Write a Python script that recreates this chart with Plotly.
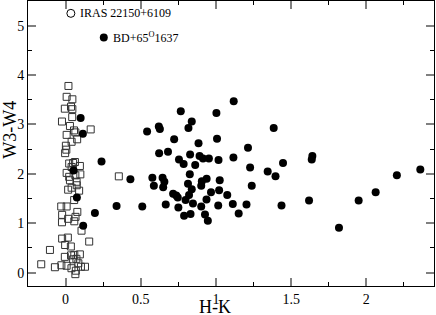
import plotly.graph_objects as go

# BD+65 1637 field stars (filled circles)
bd_hk = [0.100, 0.115, 0.239, 0.053, 0.075, 0.195, 0.117, 0.339, 0.431, 0.510,
         0.542, 0.620, 0.627, 0.766, 1.003, 0.839, 0.817, 0.722, 1.007, 0.884,
         0.622, 0.681, 0.828, 0.754, 0.785, 0.862, 0.891, 0.914, 0.953, 1.017,
         0.826, 0.577, 0.587, 0.645, 0.657, 0.649, 0.814, 0.906, 0.938, 0.902,
         1.025, 0.839, 1.021, 0.967, 0.715, 0.736, 0.746, 0.821, 0.798, 1.075,
         0.666, 0.750, 0.847, 0.937, 0.902, 1.015, 0.788, 0.831, 0.927, 0.946,
         1.118, 1.384, 1.213, 1.116, 1.227, 1.344, 1.396, 1.446, 1.641, 1.637,
         1.238, 1.112, 1.151, 1.203, 1.436, 1.619, 1.818, 1.949, 2.062, 2.203,
         2.359]
bd_w34 = [3.13, 2.81, 2.25, 2.07, 1.52, 1.21, 0.95, 1.35, 1.89, 1.34,
          2.86, 2.96, 2.91, 3.27, 3.23, 3.06, 2.93, 2.70, 2.71, 2.62,
          2.42, 2.45, 2.39, 2.29, 2.20, 2.18, 2.36, 2.31, 2.31, 2.28,
          1.99, 1.92, 1.76, 1.92, 1.84, 1.73, 1.80, 1.85, 1.90, 1.76,
          1.87, 1.69, 1.67, 1.63, 1.60, 1.56, 1.52, 1.57, 1.47, 1.57,
          1.38, 1.32, 1.40, 1.48, 1.34, 1.36, 1.15, 1.19, 1.18, 1.05,
          3.47, 2.93, 2.53, 2.33, 2.13, 2.05, 1.95, 2.22, 2.36, 2.29,
          1.76, 1.39, 1.20, 1.38, 1.36, 1.46, 0.91, 1.46, 1.63, 1.97,
          2.09]

# IRAS 22150+6109 field stars (open squares)
iras_hk = [0.019, 0.007, 0.045, -0.005, 0.036, 0.045, 0.044, -0.024, 0.029, 0.056,
           0.007, 0.065, 0.167, 0.077, 0.040, 0.002, 0.005, -0.003, 0.050, 0.024,
           0.095, 0.062, 0.040, 0.007, 0.024, 0.065, 0.098, 0.029, 0.073, 0.074,
           0.090, 0.017, 0.040, 0.057, 0.354, -0.029, 0.007, -0.023, 0.017, 0.066,
           0.078, -0.024, 0.058, 0.106, -0.023, 0.015, -0.003, 0.035, 0.157, -0.104,
           -0.005, 0.036, 0.058, 0.095, 0.050, 0.072, 0.085, -0.162, -0.071, -0.028,
           0.007, 0.039, 0.068, 0.102, 0.129, 0.065]
iras_w34 = [3.78, 3.56, 3.51, 3.32, 3.36, 3.31, 3.15, 3.06, 2.97, 2.88,
            2.79, 2.84, 2.90, 2.70, 2.65, 2.57, 2.49, 2.42, 2.22, 2.21,
            2.16, 2.24, 2.14, 2.02, 1.94, 1.97, 1.99, 1.87, 1.84, 1.77,
            1.66, 1.68, 1.72, 1.47, 1.95, 1.34, 1.34, 1.17, 1.09, 1.13,
            1.23, 1.02, 1.04, 0.85, 0.69, 0.71, 0.56, 0.53, 0.63, 0.46,
            0.32, 0.35, 0.36, 0.37, 0.27, 0.28, 0.19, 0.17, 0.11, 0.15,
            0.14, 0.09, 0.04, 0.12, 0.12, -0.03]

# legend key positions (data units)
key_labels = ["IRAS 22150+6109", "BD+65<sup>O</sup>1637"]
key_x = [0.035, 0.254]
key_y = [5.25, 4.76]

x_ticks = [0, 0.5, 1, 1.5, 2]
y_ticks = [0, 1, 2, 3, 4, 5]

FONT = "Liberation Serif, Times New Roman, serif"

fig = go.Figure()
fig.add_trace(go.Scatter(
    x=iras_hk, y=iras_w34, mode="markers",
    marker=dict(symbol="square-open", size=7, color="#333333", line=dict(width=1, color="#333333")),
    showlegend=False, hoverinfo="skip"))
fig.add_trace(go.Scatter(
    x=bd_hk, y=bd_w34, mode="markers",
    marker=dict(symbol="circle", size=8, color="black", line=dict(width=0)),
    showlegend=False, hoverinfo="skip"))
# legend keys
fig.add_trace(go.Scatter(
    x=[key_x[0]], y=[key_y[0]], mode="markers",
    marker=dict(symbol="circle", size=8, color="white", line=dict(width=1, color="black")),
    showlegend=False, hoverinfo="skip"))
fig.add_trace(go.Scatter(
    x=[key_x[1]], y=[key_y[1]], mode="markers",
    marker=dict(symbol="circle", size=8, color="black"),
    showlegend=False, hoverinfo="skip"))

for lab, kx, ky in zip(key_labels, key_x, key_y):
    fig.add_annotation(x=kx + 0.05, y=ky, xref="x", yref="y", text=lab,
                       showarrow=False, xanchor="left", yanchor="middle",
                       font=dict(family=FONT, size=12, color="black"))

fig.add_annotation(x=0.4606, y=-0.0754, xref="paper", yref="paper", text="H-K",
                   showarrow=False, xanchor="center", yanchor="middle",
                   font=dict(family=FONT, size=18, color="black"))
fig.add_annotation(x=-0.043, y=0.547, xref="paper", yref="paper", text="W3-W4",
                   textangle=-90, showarrow=False, xanchor="center", yanchor="middle",
                   font=dict(family=FONT, size=18, color="black"))

axis_common = dict(
    showline=True, linecolor="black", linewidth=1, mirror="allticks",
    ticks="inside", ticklen=8, tickwidth=1.5, tickcolor="#808080",
    showgrid=False, zeroline=False,
    tickfont=dict(family=FONT, size=14, color="black"),
)
fig.update_xaxes(range=[-0.25, 2.45], tickvals=x_ticks, ticktext=[str(t) for t in x_ticks],
                 minor=dict(ticks="inside", ticklen=4, tickwidth=1, tickcolor="black", dtick=0.25, tick0=0, showgrid=False),
                 **axis_common)
fig.update_yaxes(range=[-0.27, 5.5], tickvals=y_ticks, ticktext=[str(t) for t in y_ticks],
                 minor=dict(ticks="inside", ticklen=4, tickwidth=1, tickcolor="black", dtick=0.5, tick0=0, showgrid=False),
                 **axis_common)

fig.update_layout(
    width=436, height=315,
    margin=dict(l=28, r=2, t=1, b=29),
    paper_bgcolor="white", plot_bgcolor="white",
    font=dict(family=FONT, color="black"),
)
fig.write_html("out.html", config={"displayModeBar": False},
               post_script="document.body.style.margin='0';document.body.style.padding='0';document.body.style.overflow='hidden';")
